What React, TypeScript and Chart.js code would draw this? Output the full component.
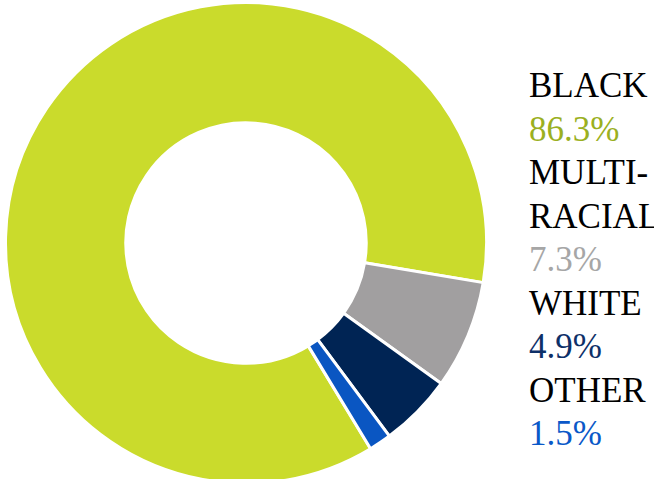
import React, { useEffect, useRef } from "react";
import { Chart, registerables } from "chart.js";

Chart.register(...registerables);

const categories = ["BLACK", "MULTI-\nRACIAL", "WHITE", "OTHER"];
const values = [86.3, 7.3, 4.9, 1.5];
const valueLabels = ["86.3%", "7.3%", "4.9%", "1.5%"];
const sliceColors = ["#CADB2C", "#A19FA0", "#002454", "#0A56C2"];
const labelColors = ["#9BB01F", "#A6A6A6", "#0E3068", "#0A58C8"];

export default function App() {
  const ref = useRef<HTMLCanvasElement | null>(null);
  useEffect(() => {
    if (!ref.current) return;
    const chart = new Chart(ref.current, {
      type: "doughnut",
      data: {
        labels: categories,
        datasets: [
          {
            data: values,
            backgroundColor: sliceColors,
            borderColor: "#ffffff",
            borderWidth: 3,
          },
        ],
      },
      options: {
        animation: false,
        responsive: false,
        cutout: "50%",
        rotation: 148.8,
        layout: { padding: 0 },
        plugins: { legend: { display: false }, tooltip: { enabled: false } },
      },
    });
    return () => chart.destroy();
  }, []);

  return (
    <div style={{ position: "fixed", left: 0, top: 0, width: 654, height: 479, background: "#fff", overflow: "hidden" }}>
      <canvas ref={ref} width={484} height={484} style={{ position: "absolute", left: 4, top: 1, width: 484, height: 484 }} />
      <div
        style={{
          position: "absolute",
          left: 529,
          top: 64,
          fontFamily: "'Liberation Serif', serif",
          fontSize: 35,
          lineHeight: "43.5px",
          whiteSpace: "pre",
        }}
      >
        {categories.map((c, i) => (
          <div key={i}>
            <div style={{ color: "#000" }}>{c}</div>
            <div style={{ color: labelColors[i] }}>{valueLabels[i]}</div>
          </div>
        ))}
      </div>
    </div>
  );
}
